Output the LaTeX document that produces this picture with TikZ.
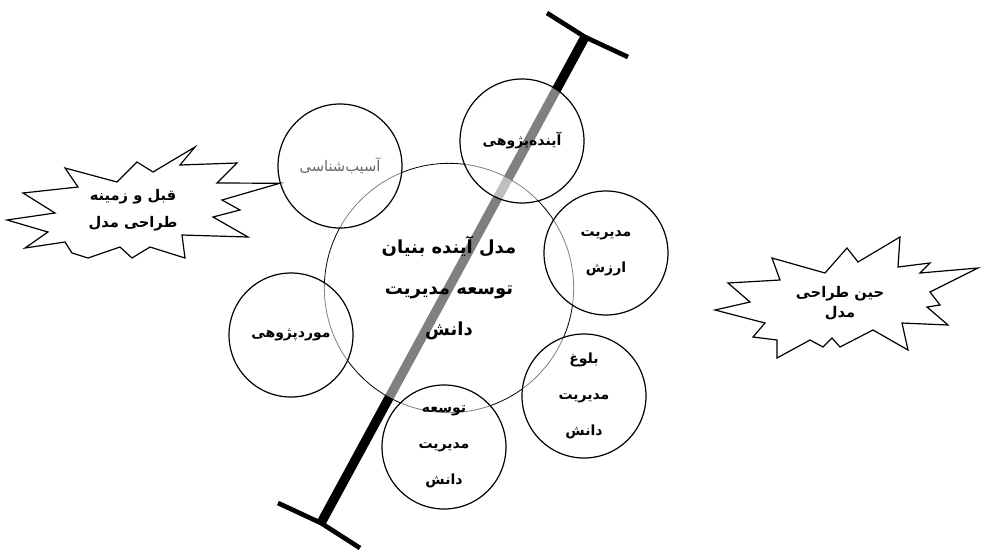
\documentclass[tikz,border=0pt]{standalone}
\usepackage{fontspec}
\newfontfamily\farsi[Script=Arabic]{DejaVu Sans}
\TeXXeTstate=1
\newcommand{\fa}[1]{\beginR #1\endR}

\begin{document}
\begin{tikzpicture}[x=0.75pt, y=-0.75pt,
    barstyle/.style={line width=7pt},
    capstyle/.style={line width=3.5pt},
    bigbubble/.style={circle, draw, line width=0.6pt, fill=white, fill opacity=0.5, text opacity=1,
      minimum size=187pt, inner sep=0pt, align=center, font=\farsi\bfseries\fontsize{13.5}{31}\selectfont},
    bubble/.style={circle, draw, line width=0.9pt, fill=white, fill opacity=0.5, text opacity=1,
      minimum size=93pt, inner sep=0pt, align=center, font=\farsi\bfseries\fontsize{10.5}{27}\selectfont},
    burststyle/.style={draw, line width=0.9pt, fill=white, line join=miter},
    bursttext/.style={align=center, font=\farsi\bfseries\fontsize{11}{19}\selectfont}]
  \useasboundingbox (0,0) rectangle (989,551);
  % the bar with its two cross pieces
  \coordinate (bartop) at (585,37);
  \coordinate (barbot) at (321,523);
  \draw[barstyle] (bartop) -- (barbot);
  \draw[capstyle] (547,13) -- (bartop) -- (628,57);
  \draw[capstyle] (278,503) -- (barbot) -- (360,548);
  % central model
  \node[bigbubble] (core) at (449,288) {\fa{مدل آینده بنیان}\\\fa{توسعه مدیریت}\\\fa{دانش}};
  % stages round the model
  \node[bubble, font=\farsi\fontsize{11}{12}\selectfont, text=black!60] (asib) at (340,166) {\fa{آسیب^^^^200cشناسی}};
  \node[bubble] (ayande) at (522,141) {\fa{آینده^^^^200cپژوهی}};
  \node[bubble] (arzesh) at (606,253) {\fa{مدیریت}\\\fa{ارزش}};
  \node[bubble] (bolugh) at (584,396) {\fa{بلوغ}\\\fa{مدیریت}\\\fa{دانش}};
  \node[bubble] (tose) at (444,447) {\fa{توسعه}\\\fa{مدیریت}\\\fa{دانش}};
  \node[bubble] (morad) at (291,335) {\fa{موردپژوهی}};
  % left burst, its long spike touches the first stage
  \draw[burststyle] (65,168) -- (117,182) -- (137,162) -- (153,172) -- (195,147) -- (180,165)
    -- (237,163) -- (217,183) -- (asib.196) -- (222,200) -- (240,210) -- (213,217) -- (248,237)
    -- (182,235) -- (185,258) -- (150,247) -- (132,258) -- (120,247) -- (88,258) -- (72,253)
    -- (65,242) -- (25,248) -- (48,232) -- (7,220) -- (55,213) -- (23,193) -- (78,187) -- cycle;
  \node[bursttext, font=\farsi\bfseries\fontsize{11}{20}\selectfont] (before) at (133,210) {\fa{قبل و زمینه}\\\fa{طراحی مدل}};
  % right burst
  \draw[burststyle] (772,258) -- (825,273) -- (847,248) -- (858,262) -- (900,237) -- (898,267)
    -- (930,263) -- (920,273) -- (978,268) -- (930,292) -- (940,305) -- (927,307) -- (948,325)
    -- (902,323) -- (908,350) -- (873,330) -- (840,347) -- (832,338) -- (823,347) -- (810,340)
    -- (777,358) -- (777,340) -- (753,337) -- (765,323) -- (715,310) -- (750,302) -- (728,283)
    -- (780,280) -- cycle;
  \node[bursttext, font=\farsi\bfseries\fontsize{11}{15}\selectfont] (during) at (840,303) {\fa{حین طراحی}\\\fa{مدل}};
\end{tikzpicture}
\end{document}
